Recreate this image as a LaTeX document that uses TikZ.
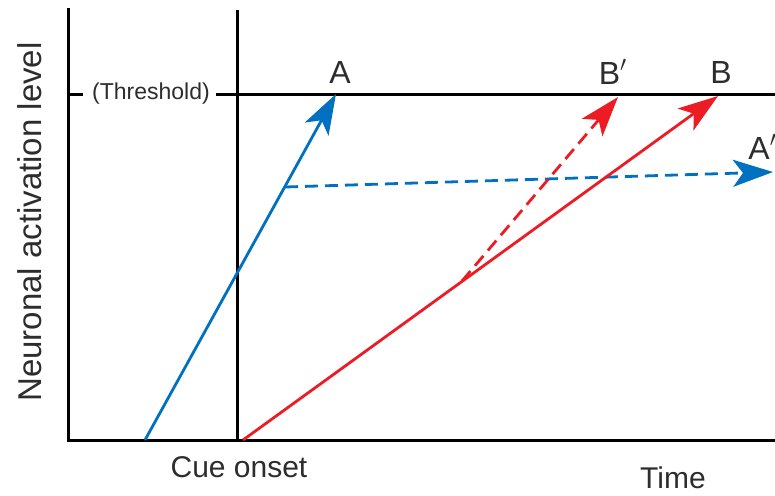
\documentclass[tikz,border=0pt]{standalone}
\usepackage{fontspec}
\setmainfont{Liberation Sans}
\usetikzlibrary{arrows.meta}
\definecolor{cueblue}{RGB}{0,112,192}
\definecolor{cuered}{RGB}{237,28,36}
\definecolor{labelgray}{RGB}{45,45,45}

\begin{document}
\begin{tikzpicture}[x=0.5pt, y=-0.5pt,
  axisline/.style={line width=1.5pt, black},
  trace/.style={line width=1.4pt, -{Stealth[length=20pt, width=13.5pt, inset=5pt]}},
  lbl/.style={text=labelgray, inner sep=0pt}]
  \useasboundingbox (0,0) rectangle (775,495);
  % axes and cue onset
  \coordinate (origin) at (68,440);
  \coordinate (ytop) at (68,8);
  \coordinate (xend) at (775,440);
  \coordinate (cuetop) at (237,10);
  \coordinate (cuebot) at (237,440);
  \draw[axisline] (ytop) -- (origin) -- (xend);
  \draw[axisline] (cuetop) -- (cuebot);
  % threshold
  \node[lbl, font=\fontsize{11.5}{12}\selectfont] (thr) at (151,94) {(Threshold)};
  \coordinate (thrtick) at (83,94);
  \coordinate (thrend) at (775,94);
  \draw[axisline] (origin |- thr) -- (thrtick);
  \draw[axisline] (thr.east) ++(6,0) -- (thrend);
  % traces
  \coordinate (bluestart) at (145,440);
  \coordinate (bluetip) at (336,94);
  \coordinate (bluebranch) at (285,187);
  \coordinate (bluedtip) at (773,172);
  \coordinate (redstart) at (243,440);
  \coordinate (redtip) at (718,96);
  \coordinate (redbranch) at (462,281);
  \coordinate (reddtip) at (618,97);
  \draw[trace, cueblue, dashed, dash pattern=on 6.5pt off 3.5pt] (bluebranch) -- (bluedtip);
  \draw[trace, cuered, dashed, dash pattern=on 6.5pt off 3.5pt] (redbranch) -- (reddtip);
  \draw[trace, cueblue] (bluestart) -- (bluetip);
  \draw[trace, cuered] (redstart) -- (redtip);
  % labels
  \node[lbl, font=\fontsize{16}{16}\selectfont] (labA) at (340,72) {A};
  \node[lbl, font=\fontsize{16}{16}\selectfont] (labBp) at (613,72) {B$'$};
  \node[lbl, font=\fontsize{16}{16}\selectfont] (labB) at (721,72) {B};
  \node[lbl, font=\fontsize{16}{16}\selectfont, anchor=west] (labAp) at (748,147) {A$'$};
  \node[lbl, font=\fontsize{15}{15}\selectfont] (cue) at (239,467) {Cue onset};
  \node[lbl, font=\fontsize{15}{15}\selectfont] (time) at (673,478) {Time};
  \node[lbl, font=\fontsize{16.5}{17}\selectfont, rotate=90] (ylab) at (30,222) {Neuronal activation level};
\end{tikzpicture}
\end{document}
